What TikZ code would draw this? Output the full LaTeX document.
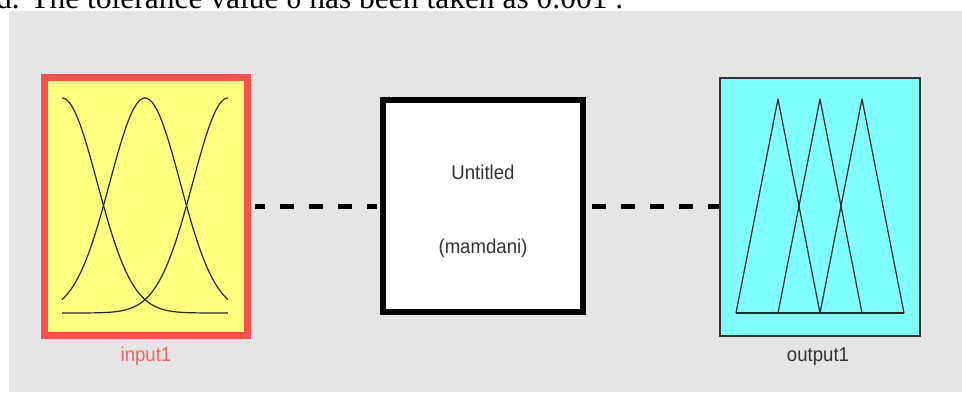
\documentclass[tikz,border=0pt]{standalone}
\usepackage{fontspec}
\setmainfont{Liberation Serif}
\newfontfamily\labfont{Liberation Sans}
\definecolor{bggray}{HTML}{E5E5E5}
\definecolor{inred}{HTML}{FF4F4F}
\definecolor{inyellow}{HTML}{FFFF80}
\definecolor{outcyan}{HTML}{80FFFF}
\definecolor{inlabel}{HTML}{F06464}
\definecolor{txtgray}{HTML}{333333}
\tikzset{
  inbox/.style={draw=inred, fill=inyellow, line width=7pt, minimum width=203pt, minimum height=258pt, inner sep=0pt},
  fisbox/.style={draw=black, fill=white, line width=6pt, minimum width=200pt, minimum height=212pt, inner sep=0pt},
  outbox/.style={draw=txtgray, fill=outcyan, line width=2pt, minimum width=200pt, minimum height=258pt, inner sep=0pt},
  lab/.style={inner sep=0pt, anchor=base, font=\labfont\fontsize{20}{24}\selectfont},
  link/.style={draw=black, line width=5pt, dash pattern=on 14pt off 15pt},
  mf/.style={draw=black!85, line width=1.2pt, line join=round}
}
\begin{document}
\begin{tikzpicture}[x=1pt,y=-1pt]
\useasboundingbox (0,0) rectangle (962,392);
\fill[bggray] (9,11) rectangle (962,392);
\node[anchor=base west, inner sep=0pt, font=\fontsize{31.5}{36}\selectfont] (cap) at (-4,8) {d. The tolerance value δ has been taken as 0.001 .};
% boxes
\node[inbox] (in) at (146,206.5) {};
\node[fisbox] (fis) at (483,206) {};
\node[outbox] (out) at (820,207) {};
% membership functions of input1
\draw[mf] plot[domain=0:1,samples=90,smooth] ({62+166*\x},{313-215*exp(0-(\x)*(\x)/0.0901)});
\draw[mf] plot[domain=0:1,samples=90,smooth] ({62+166*\x},{313-215*exp(0-(\x-0.5)*(\x-0.5)/0.0901)});
\draw[mf] plot[domain=0:1,samples=90,smooth] ({62+166*\x},{313-215*exp(0-(\x-1)*(\x-1)/0.0901)});
% membership functions of output1
\draw[mf] (736,313) -- (778,99) -- (820,313);
\draw[mf] (778,313) -- (820,99) -- (862,313);
\draw[mf] (820,313) -- (862,99) -- (904,313);
\draw[mf] (736,313) -- (904,313);
% texts
\node[lab, text=inlabel] (inlab) at (146,361) {\scalebox{0.93}[1]{input1}};
\node[lab, text=txtgray] (outlab) at (818,361) {\scalebox{0.93}[1]{output1}};
\node[lab, text=txtgray] (name) at (483,179) {\scalebox{0.93}[1]{Untitled}};
\node[lab, text=txtgray] (type) at (483,253) {\scalebox{0.93}[1]{(mamdani)}};
% connectors
\draw[link, dash phase=3.5pt] ([xshift=3.5pt]in.east) -- ([xshift=-3pt]fis.west |- in.east);
\draw[link, dash phase=26pt] ([xshift=3pt]fis.east |- in.east) -- (out.west |- in.east);
\end{tikzpicture}
\end{document}
